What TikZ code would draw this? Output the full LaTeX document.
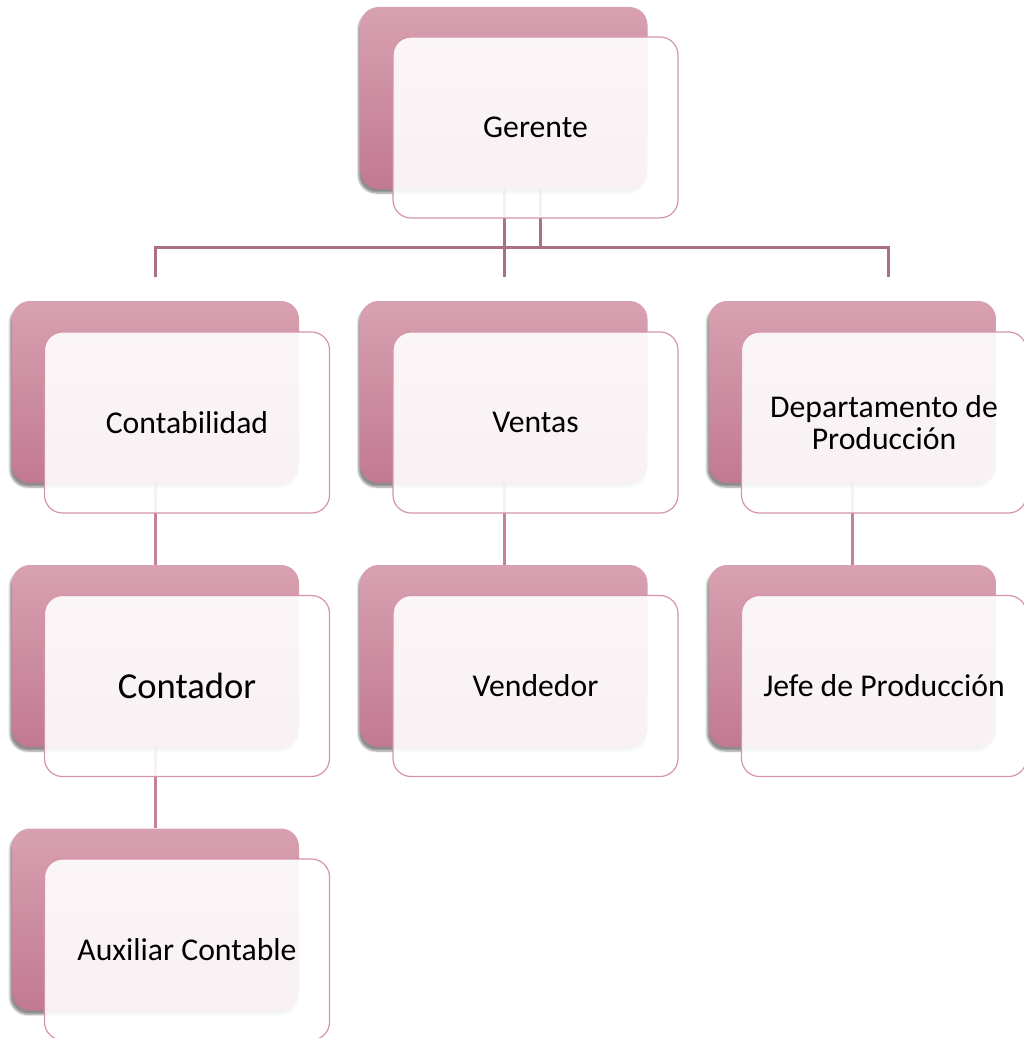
\documentclass[tikz,border=0pt]{standalone}
\usepackage{fontspec}
\setmainfont{Carlito}
\usetikzlibrary{shadows.blur,backgrounds}
\definecolor{backtop}{RGB}{216,161,176}
\definecolor{backbot}{RGB}{193,121,146}
\definecolor{frontline}{RGB}{214,148,168}
\definecolor{barcol}{RGB}{172,112,132}
\definecolor{linkcol}{RGB}{198,128,152}
\tikzset{
  backbox/.style={rectangle, rounded corners=18pt, minimum width=287pt, minimum height=182pt,
    inner sep=0pt, top color=backtop, bottom color=backbot, draw=none,
    blur shadow={shadow xshift=-2pt, shadow yshift=-4pt, shadow blur steps=6, shadow opacity=45}},
  frontbox/.style={rectangle, rounded corners=18pt, minimum width=285pt, minimum height=181pt,
    inner sep=0pt, fill=white, fill opacity=0.9, text opacity=1, draw=frontline, line width=1.2pt,
    font=\fontsize{31.7}{32}\selectfont, align=center, text=black},
  barline/.style={draw=barcol, line width=3pt},
  linkline/.style={draw=linkcol, line width=3pt},
}
\begin{document}
\begin{tikzpicture}[x=1pt,y=-1pt]
\useasboundingbox (0,0) rectangle (1024,1038);
% row 1
\node[backbox] (gB) at (504,98) {};
\node[frontbox] (g) at (535.5,127.5) {Gerente};
% row 2
\node[backbox] (cB) at (155.5,392) {};
\node[frontbox] (c) at (187,422.5) {Contabilidad};
\node[backbox] (vB) at (504,392) {};
\node[frontbox] (v) at (535.5,422.5) {Ventas};
\node[backbox] (dB) at (852.5,392) {};
\node[frontbox] (d) at (884,422.5) {Departamento de\\Producción};
% row 3
\node[backbox] (ctB) at (155.5,656) {};
\node[frontbox, font=\fontsize{36.6}{40}\selectfont] (ct) at (187,686) {Contador};
\node[backbox] (vdB) at (504,656) {};
\node[frontbox] (vd) at (535.5,686) {Vendedor};
\node[backbox] (jB) at (852.5,656) {};
\node[frontbox] (j) at (884,686) {Jefe de Producción};
% row 4
\node[backbox] (aB) at (155.5,919.5) {};
\node[frontbox] (a) at (187,949.5) {Auxiliar Contable};
% connectors
\coordinate (barL) at (155.5,247);
\coordinate (barR) at (888,247);
\coordinate (dropL) at (155.5,277);
\coordinate (dropM) at (504,277);
\coordinate (dropR) at (888,277);
\coordinate (gx1) at (540,189);
\coordinate (gx2) at (540,247);
\begin{scope}[on background layer]
\draw[barline] (gB.south) -- (dropM);
\draw[barline] (gx1) -- (gx2);
\draw[barline, line cap=rect] (barL) -- (barR);
\draw[barline] (barL) -- (dropL);
\draw[barline] (barR) -- (dropR);
\draw[linkline] (cB.south) -- (ctB.north);
\draw[linkline] (vB.south) -- (vdB.north);
\draw[linkline] (dB.south) -- (jB.north);
\draw[linkline] (ctB.south) -- (aB.north);
\end{scope}
\end{tikzpicture}
\end{document}
